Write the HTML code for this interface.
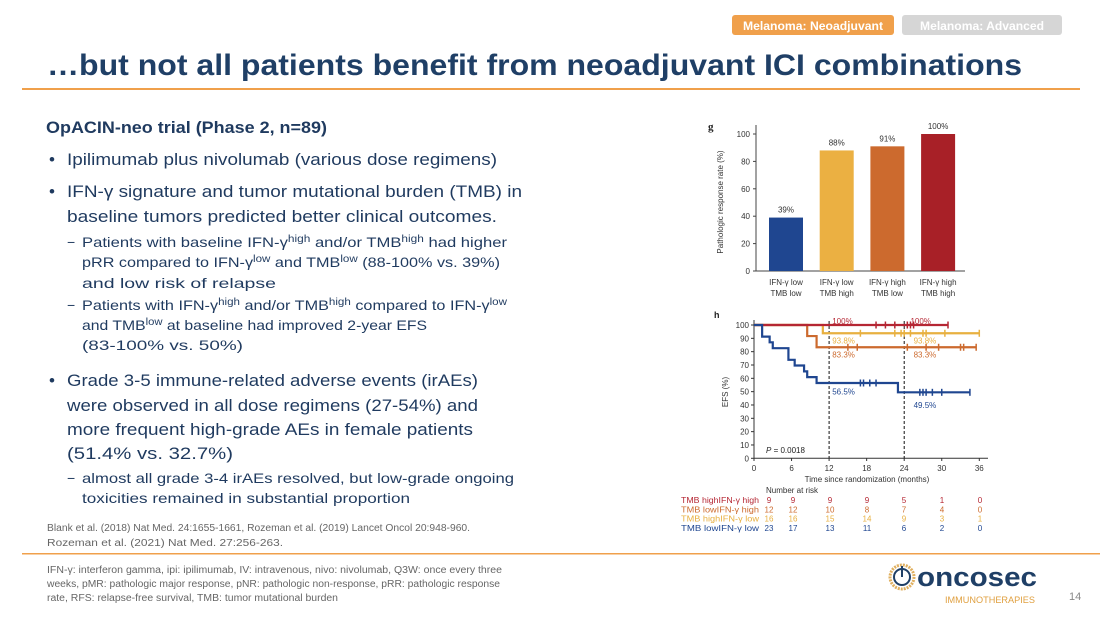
<!DOCTYPE html>
<html><head><meta charset="utf-8">
<style>
html,body{margin:0;padding:0;background:#fff;}
svg{display:block;font-family:"Liberation Sans",Arial,sans-serif;}
</style></head>
<body>
<svg id="page" width="1100" height="619" viewBox="0 0 1100 619" xmlns="http://www.w3.org/2000/svg">
  <g>
    <rect x="732" y="15" width="162" height="20" rx="3" fill="#f0a04b"/>
    <text x="813" y="30" font-size="12" font-weight="bold" fill="#fff" text-anchor="middle" textLength="140" lengthAdjust="spacingAndGlyphs">Melanoma: Neoadjuvant</text>
  </g>
  <g>
    <rect x="902" y="15" width="160" height="20" rx="3" fill="#d6d6d6"/>
    <text x="982" y="30" font-size="12" font-weight="bold" fill="#fff" text-anchor="middle" textLength="124" lengthAdjust="spacingAndGlyphs">Melanoma: Advanced</text>
  </g>
  <text x="47" y="75" font-size="30" font-weight="bold" fill="#1f3f66" textLength="975" lengthAdjust="spacingAndGlyphs">…but not all patients benefit from neoadjuvant ICI combinations</text>
  <rect x="22" y="88" width="1058" height="2" fill="#f0a04b"/>

  <g fill="#1f3a5f">
    <text x="46" y="133" font-size="17" font-weight="bold" textLength="281" lengthAdjust="spacingAndGlyphs">OpACIN-neo trial (Phase 2, n=89)</text>
    <text x="49" y="165" font-size="17">•</text>
    <text x="67" y="165" font-size="17" textLength="430" lengthAdjust="spacingAndGlyphs">Ipilimumab plus nivolumab (various dose regimens)</text>
    <text x="49" y="197" font-size="17">•</text>
    <text x="67" y="197" font-size="17" textLength="455" lengthAdjust="spacingAndGlyphs">IFN-γ signature and tumor mutational burden (TMB) in</text>
    <text x="67" y="222" font-size="17" textLength="430" lengthAdjust="spacingAndGlyphs">baseline tumors predicted better clinical outcomes.</text>
    <text x="67" y="247" font-size="14">−</text>
    <text x="82" y="247" font-size="14" textLength="425" lengthAdjust="spacingAndGlyphs">Patients with baseline IFN-γ<tspan font-size="10" dy="-5">high</tspan><tspan dy="5"> and/or TMB</tspan><tspan font-size="10" dy="-5">high</tspan><tspan dy="5"> had higher</tspan></text>
    <text x="82" y="267" font-size="14" textLength="418" lengthAdjust="spacingAndGlyphs">pRR compared to IFN-γ<tspan font-size="10" dy="-5">low</tspan><tspan dy="5"> and TMB</tspan><tspan font-size="10" dy="-5">low</tspan><tspan dy="5"> (88-100% vs. 39%)</tspan></text>
    <text x="82" y="288" font-size="14" textLength="194" lengthAdjust="spacingAndGlyphs">and low risk of relapse</text>
    <text x="67" y="310" font-size="14">−</text>
    <text x="82" y="310" font-size="14" textLength="425" lengthAdjust="spacingAndGlyphs">Patients with IFN-γ<tspan font-size="10" dy="-5">high</tspan><tspan dy="5"> and/or TMB</tspan><tspan font-size="10" dy="-5">high</tspan><tspan dy="5"> compared to IFN-γ</tspan><tspan font-size="10" dy="-5">low</tspan></text>
    <text x="82" y="330" font-size="14" textLength="345" lengthAdjust="spacingAndGlyphs">and TMB<tspan font-size="10" dy="-5">low</tspan><tspan dy="5"> at baseline had improved 2-year EFS</tspan></text>
    <text x="82" y="350" font-size="14" textLength="161" lengthAdjust="spacingAndGlyphs">(83-100% vs. 50%)</text>
    <text x="49" y="386" font-size="17">•</text>
    <text x="67" y="386" font-size="17" textLength="411" lengthAdjust="spacingAndGlyphs">Grade 3-5 immune-related adverse events (irAEs)</text>
    <text x="67" y="411" font-size="17" textLength="411" lengthAdjust="spacingAndGlyphs">were observed in all dose regimens (27-54%) and</text>
    <text x="67" y="435" font-size="17" textLength="406" lengthAdjust="spacingAndGlyphs">more frequent high-grade AEs in female patients</text>
    <text x="67" y="459" font-size="17" textLength="166" lengthAdjust="spacingAndGlyphs">(51.4% vs. 32.7%)</text>
    <text x="67" y="483" font-size="14">−</text>
    <text x="82" y="483" font-size="14" textLength="432" lengthAdjust="spacingAndGlyphs">almost all grade 3-4 irAEs resolved, but low-grade ongoing</text>
    <text x="82" y="503" font-size="14" textLength="328" lengthAdjust="spacingAndGlyphs">toxicities remained in substantial proportion</text>
  </g>
  <g fill="#666" font-size="10">
    <text x="47" y="531" textLength="423" lengthAdjust="spacingAndGlyphs">Blank et al. (2018) Nat Med. 24:1655-1661, Rozeman et al. (2019) Lancet Oncol 20:948-960.</text>
    <text x="47" y="546" textLength="236" lengthAdjust="spacingAndGlyphs">Rozeman et al. (2021) Nat Med. 27:256-263.</text>
  </g>
  <rect x="22" y="553" width="1078" height="1.5" fill="#f0a04b"/>
  <g fill="#666" font-size="10">
    <text x="47" y="573" textLength="455" lengthAdjust="spacingAndGlyphs">IFN-γ: interferon gamma, ipi: ipilimumab, IV: intravenous, nivo: nivolumab, Q3W: once every three</text>
    <text x="47" y="587" textLength="453" lengthAdjust="spacingAndGlyphs">weeks, pMR: pathologic major response, pNR: pathologic non-response, pRR: pathologic response</text>
    <text x="47" y="601" textLength="291" lengthAdjust="spacingAndGlyphs">rate, RFS: relapse-free survival, TMB: tumor mutational burden</text>
  </g>
  <g>
    <circle cx="902" cy="577" r="12" fill="none" stroke="#e0b060" stroke-width="3" stroke-dasharray="2 1"/>
    <circle cx="902" cy="577" r="8" fill="none" stroke="#1f3f66" stroke-width="2"/>
    <line x1="902" y1="566" x2="902" y2="577" stroke="#1f3f66" stroke-width="2"/>
    <text x="917" y="586" font-size="27" font-weight="bold" fill="#1f3f66" textLength="120" lengthAdjust="spacingAndGlyphs">oncosec</text>
    <text x="945" y="603" font-size="9" fill="#e0a040" textLength="90" lengthAdjust="spacingAndGlyphs">IMMUNOTHERAPIES</text>
  </g>
  <text x="1069" y="600" font-size="11" fill="#888">14</text>

  <g id="bar-chart"></g>
  <g id="km-chart"></g>
</svg>
<script>
const NS="http://www.w3.org/2000/svg";
// ---- bar chart data ----
const barCategories=[["IFN-γ low","TMB low"],["IFN-γ low","TMB high"],["IFN-γ high","TMB low"],["IFN-γ high","TMB high"]];
const barValues=[39,88,91,100];
const barLabels=["39%","88%","91%","100%"];
const barColors=["#1f4690","#ebb042","#cc6a2e","#a82027"];
const barTicks=[0,20,40,60,80,100];
// ---- KM data ----
const kmTimeTicks=[0,6,12,18,24,30,36];
const kmYTicks=[0,10,20,30,40,50,60,70,80,90,100];
const kmNames=["TMB highIFN-γ high","TMB lowIFN-γ high","TMB highIFN-γ low","TMB lowIFN-γ low"];
const kmColors=["#b52633","#cc6a2e","#e8b040","#1f4690"];
const kmStepTimes=[[0,31],[0,8.5,10,35.5],[0,11,36],[0,1.3,2.5,3,5.5,6.5,8,8.5,10,23,34.5]];
const kmStepValues=[[100,100],[100,91.7,83.3,83.3],[100,93.8,93.8],[100,91.3,87,82.6,73.9,69.6,65.2,60.9,56.5,49.5,49.5]];
const kmCensors=[[19.5,21,22.5,24.5,25,25.5,31],[15,16.5,24.5,27.5,29.5,33,33.5,35.5],[17,22.5,23.5,24,25,27,27.5,30.5,36],[17,17.5,18.5,19.5,26.5,27,27.5,28.5,30,34.5]];
const kmAnnot=[[["100%",12.5,103],["100%",25,103]],[["83.3%",12.5,78],["83.3%",25.5,78]],[["93.8%",12.5,88.5],["93.8%",25.5,88.5]],[["56.5%",12.5,50],["49.5%",25.5,40]]];
const riskCounts=[[9,9,9,9,5,1,0],[12,12,10,8,7,4,0],[16,16,15,14,9,3,1],[23,17,13,11,6,2,0]];

function el(tag,attrs,parent,txt){const e=document.createElementNS(NS,tag);for(const k in attrs)e.setAttribute(k,attrs[k]);if(txt!==undefined)e.textContent=txt;parent.appendChild(e);return e;}

(function(){
 const g=document.getElementById('bar-chart');
 const y0=271,y100=134,xAxis=756;
 const yS=v=>y0-(v/100)*(y0-y100);
 const xC=i=>786+i*50.7;
 el('text',{x:708,y:130,'font-size':11,'font-weight':'bold','font-family':'Liberation Serif',fill:'#222'},g,'g');
 el('line',{x1:xAxis,y1:125,x2:xAxis,y2:y0,stroke:'#444','stroke-width':1},g);
 el('line',{x1:xAxis,y1:y0,x2:965,y2:y0,stroke:'#444','stroke-width':1},g);
 barTicks.forEach(t=>{el('line',{x1:xAxis-3,y1:yS(t),x2:xAxis,y2:yS(t),stroke:'#444'},g);
   const tx=el('text',{x:xAxis-6,y:yS(t)+3,'font-size':8,'text-anchor':'end',fill:'#333'},g,t);
   
   });
 const yt=el('text',{x:0,y:0,'font-size':8,'text-anchor':'middle',fill:'#333',transform:'translate(723,202) rotate(-90)'},g,'Pathologic response rate (%)');
 
 
 barValues.forEach((v,i)=>{
  const r=el('rect',{x:xC(i)-17,y:yS(v),width:34,height:y0-yS(v),fill:barColors[i]},g);
  
  
  el('text',{x:xC(i),y:yS(v)-5,'font-size':8,'text-anchor':'middle',fill:'#333'},g,barLabels[i]);
  el('text',{x:xC(i),y:285,'font-size':8,'text-anchor':'middle',fill:'#333'},g,barCategories[i][0]);
  el('text',{x:xC(i),y:296,'font-size':8,'text-anchor':'middle',fill:'#333'},g,barCategories[i][1]);
 });
})();

(function(){
 const g=document.getElementById('km-chart');
 const xS=t=>754+t*(979.3-754)/36;
 const yS=v=>458.3-v*(458.3-325)/100;
 el('text',{x:714,y:318,'font-size':9,'font-weight':'bold',fill:'#222'},g,'h');
 el('line',{x1:754,y1:320,x2:754,y2:458.3,stroke:'#333'},g);
 el('line',{x1:754,y1:458.3,x2:988,y2:458.3,stroke:'#333'},g);
 kmYTicks.forEach(t=>{el('line',{x1:751,y1:yS(t),x2:754,y2:yS(t),stroke:'#333'},g);
   el('text',{x:749,y:yS(t)+3,'font-size':8,'text-anchor':'end',fill:'#333'},g,t);});
 kmTimeTicks.forEach(t=>{el('line',{x1:xS(t),y1:458.3,x2:xS(t),y2:461,stroke:'#333'},g);
   el('text',{x:xS(t),y:471,'font-size':8,'text-anchor':'middle',fill:'#333'},g,t);});
 el('text',{x:0,y:0,'font-size':8,'text-anchor':'middle',fill:'#333',transform:'translate(728,392) rotate(-90)'},g,'EFS (%)');
 el('text',{x:867,y:482,'font-size':8,'text-anchor':'middle',fill:'#333'},g,'Time since randomization (months)');
 [12,24].forEach(t=>el('line',{x1:xS(t),y1:yS(103),x2:xS(t),y2:458.3,stroke:'#111','stroke-dasharray':'3 2'},g));
 const p=el('text',{x:766,y:453,'font-size':8,fill:'#222'},g);p.innerHTML='<tspan font-style="italic">P</tspan> = 0.0018';
 [2,1,0,3].forEach(i=>{
  const ts=kmStepTimes[i],vs=kmStepValues[i];
  let d='M'+xS(ts[0])+','+yS(vs[0]);
  for(let k=1;k<ts.length;k++){d+=' H'+xS(ts[k])+' V'+yS(vs[k]);}
  const path=el('path',{d:d,fill:'none',stroke:kmColors[i],'stroke-width':2.2},g);
  
  
  kmCensors[i].forEach(c=>{
   let v=vs[0];for(let k=0;k<ts.length;k++){if(ts[k]<=c)v=vs[k];}
   el('line',{x1:xS(c),y1:yS(v)-3.5,x2:xS(c),y2:yS(v)+3.5,stroke:kmColors[i],'stroke-width':1.5},g);
  });
  kmAnnot[i].forEach(a=>el('text',{x:xS(a[1]),y:yS(a[2])+3,'font-size':8,fill:kmColors[i]},g,a[0]));
 });
 el('text',{x:766,y:493,'font-size':8,fill:'#333'},g,'Number at risk');
 const colX=[769,793,830,867,904,942,980];
 riskCounts.forEach((row,i)=>{
  const y=503+i*9.3;
  el('text',{x:681,y:y,'font-size':8,fill:kmColors[i],textLength:78,lengthAdjust:'spacingAndGlyphs'},g,kmNames[i]);
  row.forEach((n,j)=>el('text',{x:colX[j],y:y,'font-size':8,'text-anchor':'middle',fill:kmColors[i]},g,n));
 });
})();
</script>
</body></html>
